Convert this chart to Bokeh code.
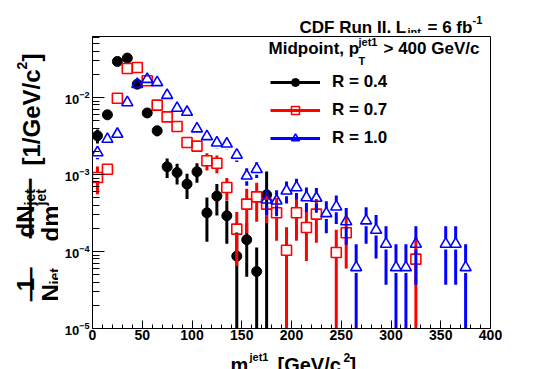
import numpy as np
from bokeh.plotting import figure
from bokeh.layouts import row, column
from bokeh.models import (ColumnDataSource, Label, Legend, LegendItem, Range1d,
                          SingleIntervalTicker, LogTicker)
from bokeh.embed import file_html
from bokeh.resources import INLINE

# ---------------- data ----------------
mass_r04 = [5, 15, 25, 35, 45, 55, 65, 75, 85, 95, 105, 115, 125, 135, 145, 155, 165, 175]
dens_r04 = [3.18e-3, 5.96e-3, 2.94e-2, 3.25e-2, 1.49e-2, 6.3e-3, 3.7e-3, 1.26e-3, 1.06e-3,
            7.5e-4, 1.09e-3, 3.18e-4, 5.24e-4, 2.91e-4, 8.7e-5, 1.42e-4, 5.5e-5, 5.44e-4]
err_r04 = [6.5e-4, 7e-4, 1.5e-3, 1.6e-3, 1.1e-3, 7e-4, 5.5e-4, 3.6e-4, 3.2e-4,
           2.7e-4, 3.1e-4, 1.84e-4, 2.3e-4, 1.65e-4, 9e-5, 9.5e-5, 5.8e-5, 5.5e-4]

mass_r07 = [5, 15, 25, 35, 45, 55, 65, 75, 85, 95, 105, 115, 125, 135, 145, 155, 165,
            175, 185, 195, 205, 215, 225, 245, 255, 325]
dens_r07 = [9.14e-4, 1.17e-3, 9.8e-3, 2.38e-2, 2.45e-2, 1.65e-2, 7.96e-3, 5.61e-3, 4.2e-3,
            2.6e-3, 2.34e-3, 1.51e-3, 1.40e-3, 6.78e-4, 1.95e-4, 4.13e-4, 5.13e-4,
            4.13e-4, 3.18e-4, 1.04e-4, 3.18e-4, 2.05e-4, 3.06e-4, 9.7e-5, 1.75e-4, 7.96e-5]
err_r07 = [3.6e-4, 1.85e-4, 6e-4, 1e-3, 1e-3, 8e-4, 6e-4, 5e-4, 4e-4,
           3.5e-4, 3.5e-4, 3.8e-4, 3.6e-4, 2.2e-4, 1.3e-4, 2.4e-4, 2.7e-4,
           1.8e-4, 1.8e-4, 1.02e-4, 1.8e-4, 1.3e-4, 1.76e-4, 9.5e-5, 1.15e-4, 7.5e-5]

mass_r10 = [5, 15, 25, 35, 45, 55, 65, 75, 85, 95, 105, 115, 125, 135, 145, 155, 165, 175,
            185, 195, 205, 215, 225, 235, 245, 255, 265, 275, 285, 295, 305, 315, 325,
            355, 365, 375]
dens_r10 = [1.93e-3, 2.88e-3, 3.35e-3, 8.61e-3, 1.49e-2, 1.73e-2, 1.57e-2, 1.07e-2, 7.28e-3,
            6.46e-3, 3.93e-3, 3.12e-3, 2.58e-3, 2.5e-3, 1.79e-3, 9.6e-4, 1.17e-3, 4.69e-4,
            4.55e-4, 6.14e-4, 6.78e-4, 5.02e-4, 4.94e-4, 3.12e-4, 3.81e-4, 2.45e-4, 6.2e-5,
            2.51e-4, 1.9e-4, 1.25e-4, 6.2e-5, 6.2e-5, 1.25e-4, 1.25e-4, 1.25e-4, 6.2e-5]
err_r10 = [3.46e-4, 4.23e-4, 4.56e-4, 7.31e-4, 9.61e-4, 1.04e-3, 9.87e-4, 8.14e-4, 6.72e-4,
           6.33e-4, 4.94e-4, 4.4e-4, 4.0e-4, 3.94e-4, 3.33e-4, 2.44e-4, 2.69e-4, 1.71e-4,
           1.68e-4, 1.95e-4, 2.05e-4, 1.76e-4, 1.75e-4, 1.39e-4, 1.54e-4, 1.23e-4, 6.2e-5,
           1.25e-4, 1.09e-4, 8.8e-5, 6.2e-5, 6.2e-5, 8.8e-5, 8.8e-5, 8.8e-5, 6.2e-5]

labels = ["R = 0.4", "R = 0.7", "R = 1.0"]
x_ticks_step = 50

# ---------------- page layout (pixels) ----------------
PW, PH = 545, 369
FL, FR, FT, FB = 92, 490, 36, 328          # frame edges on the page
LEFT_W = 58                                # strip holding the y title
TOP_H = 33                                 # strip holding the header text
BOT_Y = 346                                # strip holding the x title starts here
Y_MIN, Y_MAX = 1e-5, 0.062
PX_PER_DEC = (FB - FT) / np.log10(Y_MAX / Y_MIN)
FONT = "Liberation Sans"


def strip(w, h, xr, yr, bl, br):
    f = figure(width=w, height=h, x_range=Range1d(*xr), y_range=Range1d(*yr),
               output_backend="svg", toolbar_location=None, title=None,
               x_axis_location=None, y_axis_location=None, min_border=0,
               min_border_left=bl, min_border_right=br, min_border_top=0,
               min_border_bottom=0)
    f.grid.visible = False
    f.outline_line_color = None
    f.background_fill_color = "white"
    f.border_fill_color = "white"
    return f


def put(fig, text, px, py, size, angle=0.0, align="left", baseline="alphabetic",
        font=FONT, style="bold"):
    fig.add_layout(Label(x=px, y=py, text=text, angle=angle, text_align=align,
                         text_baseline=baseline, text_font=font, text_font_style=style,
                         text_font_size=f"{size}px", text_color="black"))


# strips: their frames share the main frame's horizontal extent, so x data = page x
left = strip(LEFT_W, PH, (0, LEFT_W), (PH, 0), 0, 0)
top = strip(PW - LEFT_W, TOP_H, (FL, FR), (TOP_H, 0), FL - LEFT_W, PW - FR)
bottom = strip(PW - LEFT_W, PH - BOT_Y, (FL, FR), (PH, BOT_Y), FL - LEFT_W, PW - FR)

p = figure(width=PW - LEFT_W, height=BOT_Y - TOP_H, x_range=(0, 400),
           y_range=(Y_MIN, Y_MAX), y_axis_type="log", output_backend="svg",
           toolbar_location=None, title=None,
           min_border_left=FL - LEFT_W, min_border_right=PW - FR,
           min_border_top=FT - TOP_H, min_border_bottom=BOT_Y - FB)
p.background_fill_color = "white"
p.border_fill_color = "white"
p.outline_line_color = "black"
p.outline_line_width = 1
p.xgrid.visible = False
p.ygrid.visible = False

for ax in (p.xaxis[0], p.yaxis[0]):
    ax.axis_line_color = "black"
    ax.major_tick_out = 0
    ax.minor_tick_out = 0
    ax.major_tick_line_color = "black"
    ax.minor_tick_line_color = "black"
    ax.major_label_text_font = FONT
    ax.major_label_text_font_style = "bold"
    ax.major_label_text_color = "black"

p.xaxis.ticker = SingleIntervalTicker(interval=x_ticks_step, num_minor_ticks=5)
p.xaxis.major_tick_in = 8
p.xaxis.minor_tick_in = 4
p.xaxis.major_label_text_font_size = "14px"
p.xaxis.major_label_standoff = 1

p.yaxis.ticker = LogTicker(num_minor_ticks=10)
p.yaxis.major_tick_in = 12
p.yaxis.minor_tick_in = 7
p.yaxis.major_label_text_font_size = "13px"
p.yaxis.major_label_standoff = 3


def series(mass, dens, err, color, marker, size, lw, hollow):
    m = np.asarray(mass, float)
    v = np.asarray(dens, float)
    e = np.asarray(err, float)
    lo = np.maximum(v - e, 1e-8)
    hi = v + e
    if hollow:
        g = 10 ** (size / 2.0 / PX_PER_DEC)
        top0 = v * g
        bot1 = v / g
        mu = hi > top0
        md = lo < bot1
        x0 = np.concatenate([m[mu], m[md]])
        y0 = np.concatenate([top0[mu], lo[md]])
        y1 = np.concatenate([hi[mu], bot1[md]])
    else:
        x0, y0, y1 = m, lo, hi
    seg = p.segment(x0=x0, y0=y0, x1=x0, y1=y1, line_color=color, line_width=3)
    src = ColumnDataSource(dict(x=m, y=v))
    if hollow:
        sc = p.scatter("x", "y", source=src, marker=marker, size=size,
                       fill_alpha=0, line_color=color, line_width=lw)
    else:
        sc = p.scatter("x", "y", source=src, marker=marker, size=size,
                       fill_color=color, line_color=color, line_width=lw)
    return seg, sc


s04 = series(mass_r04, dens_r04, err_r04, "black", "circle", 10, 1, False)
s07 = series(mass_r07, dens_r07, err_r07, "#ff0000", "square", 10, 1.6, True)
s10 = series(mass_r10, dens_r10, err_r10, "#0000ff", "triangle", 11, 1.6, True)

# ---------------- legend ----------------
leg = Legend(items=[LegendItem(label=labels[0], renderers=list(s04)),
                    LegendItem(label=labels[1], renderers=list(s07)),
                    LegendItem(label=labels[2], renderers=list(s10))],
             location=(270 - FL, FB - 148), glyph_width=50, glyph_height=20,
             label_height=20, spacing=8, padding=0, margin=0, label_standoff=12,
             border_line_color=None, background_fill_alpha=0,
             label_text_font=FONT, label_text_font_style="bold",
             label_text_font_size="17px", label_text_color="black")
p.add_layout(leg)


def put_frame(text, px, py, size):
    p.add_layout(Label(x=px - FL, y=FB - py, x_units="screen", y_units="screen",
                       text=text, text_font=FONT, text_font_style="bold",
                       text_font_size=f"{size}px", text_color="black"))


# legend header (inside the frame)
put_frame("Midpoint, p", 268, 57, 17)
put_frame("jet1", 358, 47, 11)
put_frame("T", 358, 66, 11)
put_frame("> 400 GeV/c", 383, 57, 17)

# title above the frame
put(top, "CDF Run II, L", 299, 27, 17)
put(top, "int", 407, 31, 11)
put(top, "= 6 fb", 427, 27, 17)
put(top, "-1", 472, 19, 11)

# x-axis title
put(bottom, "m", 230, 364.3, 20)
put(bottom, "jet1", 249, 356, 11)
put(bottom, "[GeV/c", 277, 364.3, 20)
put(bottom, "2", 343, 357, 12)
put(bottom, "]", 349, 364.3, 20)

# y-axis title (rotated, reading upward)
R = np.pi / 2
BAR = "\u2501"
put(left, "1", 25, 284, 24, angle=R, align="center")
put(left, BAR * 4, 30, 284, 14, angle=R, align="center", baseline="middle",
    font="DejaVu Sans", style="normal")
put(left, "N", 50, 301, 24, angle=R)
put(left, "jet", 54, 284, 14, angle=R)
put(left, "dN", 25, 237, 24, angle=R)
put(left, "jet", 29, 205, 14, angle=R)
put(left, BAR * 6, 30, 208, 16.5, angle=R, align="center", baseline="middle",
    font="DejaVu Sans", style="normal")
put(left, "dm", 50, 241, 24, angle=R)
put(left, "jet", 40, 205, 14, angle=R)
put(left, "[1/GeV/c", 31, 165, 24, angle=R)
put(left, "2", 21, 69, 14, angle=R)
put(left, "]", 31, 61, 24, angle=R)

layout = row(left, column(top, p, bottom, spacing=0), spacing=0)
open("out.html", "w").write(file_html(layout, INLINE))
